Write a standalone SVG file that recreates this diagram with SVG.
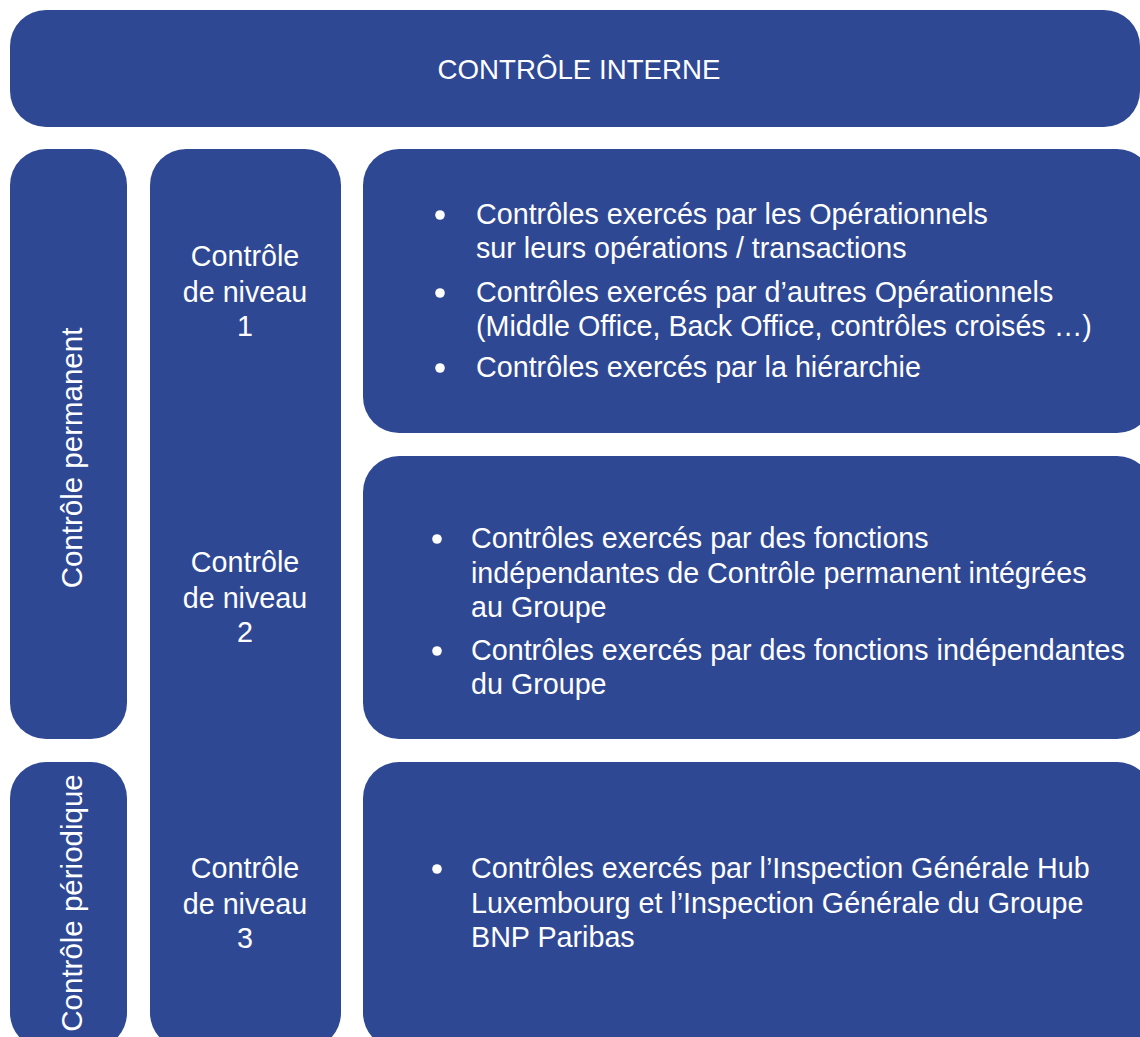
<svg xmlns="http://www.w3.org/2000/svg" width="1140" height="1037" viewBox="0 0 1140 1037">
<style>
.box{fill:#2F4894}
.dot{fill:#ffffff}
text{font-family:"Liberation Sans",Arial,sans-serif;font-size:28.7px;fill:#ffffff}
.c{text-anchor:middle}
.v{font-size:29.5px}
.t{font-size:27.7px}
</style>
<rect width="1140" height="1037" fill="#ffffff"/>
<g id="controle-interne">
<rect class="box" x="10" y="10" width="1130" height="117" rx="36" ry="36"/>
<text class="c t" x="579" y="79">CONTRÔLE INTERNE</text>
</g>
<g id="controle-permanent">
<rect class="box" x="10" y="149" width="117" height="590" rx="36" ry="36"/>
<text class="c v" transform="translate(82,458) rotate(-90)">Contrôle permanent</text>
</g>
<g id="controle-periodique">
<rect class="box" x="10" y="762" width="117" height="287" rx="36" ry="36"/>
<text class="c v" transform="translate(82,903) rotate(-90)">Contrôle périodique</text>
</g>
<g id="niveaux">
<rect class="box" x="150" y="149" width="191" height="900" rx="36" ry="36"/>
<text class="c" x="245" y="266">Contrôle</text>
<text class="c" x="245" y="302">de niveau</text>
<text class="c" x="245" y="336">1</text>
<text class="c" x="245" y="572">Contrôle</text>
<text class="c" x="245" y="608">de niveau</text>
<text class="c" x="245" y="642">2</text>
<text class="c" x="245" y="878">Contrôle</text>
<text class="c" x="245" y="914">de niveau</text>
<text class="c" x="245" y="948">3</text>
</g>
<g id="niveau-1">
<rect class="box" x="363" y="149" width="790" height="284" rx="36" ry="36"/>
<circle class="dot" cx="440" cy="215" r="4.8"/>
<text x="476" y="224">Contrôles exercés par les Opérationnels</text>
<text x="476" y="258">sur leurs opérations / transactions</text>
<circle class="dot" cx="440" cy="293" r="4.8"/>
<text x="476" y="302">Contrôles exercés par d’autres Opérationnels</text>
<text x="476" y="336">(Middle Office, Back Office, contrôles croisés …)</text>
<circle class="dot" cx="440" cy="368" r="4.8"/>
<text x="476" y="377">Contrôles exercés par la hiérarchie</text>
</g>
<g id="niveau-2">
<rect class="box" x="363" y="456" width="790" height="283" rx="36" ry="36"/>
<circle class="dot" cx="437" cy="539" r="4.8"/>
<text x="471" y="548">Contrôles exercés par des fonctions</text>
<text x="471" y="583">indépendantes de Contrôle permanent intégrées</text>
<text x="471" y="617">au Groupe</text>
<circle class="dot" cx="437" cy="651" r="4.8"/>
<text x="471" y="660">Contrôles exercés par des fonctions indépendantes</text>
<text x="471" y="694">du Groupe</text>
</g>
<g id="niveau-3">
<rect class="box" x="363" y="762" width="790" height="287" rx="36" ry="36"/>
<circle class="dot" cx="437" cy="869" r="4.8"/>
<text x="471" y="878">Contrôles exercés par l’Inspection Générale Hub</text>
<text x="471" y="913">Luxembourg et l’Inspection Générale du Groupe</text>
<text x="471" y="947">BNP Paribas</text>
</g>
<g id="connectors"/>
</svg>
